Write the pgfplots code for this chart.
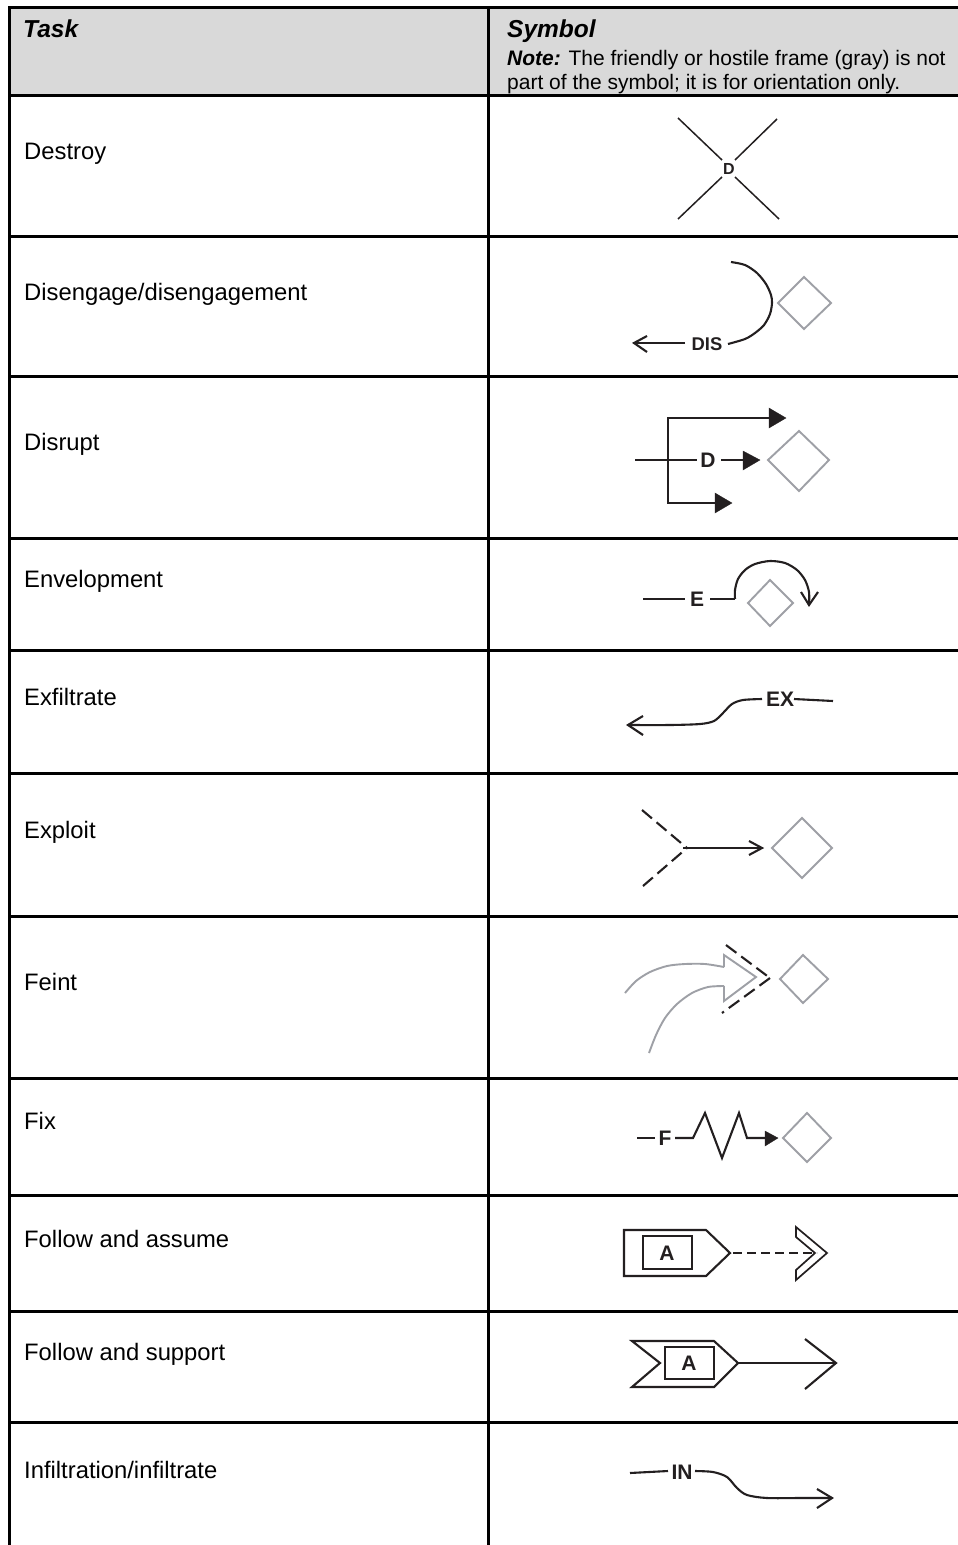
\documentclass[border=0pt]{standalone}
\usepackage{pgfplots}
\pgfplotsset{compat=1.18}
\usepackage{fontspec}
\setmainfont{Liberation Sans}
\definecolor{frame}{RGB}{158,160,166}
\definecolor{ink}{RGB}{35,31,32}
\definecolor{head}{RGB}{217,217,217}
\tikzset{
 rule/.style={black,line width=3pt},
 sym/.style={ink,line width=2.1pt,line join=miter},
 dia/.style={frame,line width=1.9pt,line join=miter},
 tri/.style={ink,fill=ink,line width=0.3pt},
 dsh/.style={ink,line width=2.1pt,dash pattern=on 13pt off 6pt},
 row/.style={anchor=base west,inner sep=0pt,font=\fontsize{23.8}{26}\selectfont},
 hd/.style={anchor=base west,inner sep=0pt,font=\fontsize{24.5}{26}\selectfont\bfseries\itshape},
 nt/.style={anchor=base west,inner sep=0pt,font=\fontsize{21}{24}\selectfont},
 lab/.style={anchor=center,inner sep=0pt,ink,font=\fontsize{#1}{#1}\selectfont\bfseries},
}
\begin{document}
\begin{tikzpicture}
\begin{axis}[
 scale only axis,width=958pt,height=1545pt,
 xmin=0,xmax=958,ymin=0,ymax=1545,y dir=reverse,
 hide axis,clip=true]
% page and header
\addplot[white,fill=white,line width=0pt] coordinates {(0,0)(958,0)(958,1545)(0,1545)} -- cycle;
\addplot[head,fill=head,line width=0pt] coordinates {(10,7)(958,7)(958,95)(10,95)} -- cycle;
% table rules
\addplot[rule] coordinates {(9,7)(958,7)};
\addplot[rule] coordinates {(9,95)(958,95)};
\addplot[rule] coordinates {(9,236)(958,236)};
\addplot[rule] coordinates {(9,376)(958,376)};
\addplot[rule] coordinates {(9,538)(958,538)};
\addplot[rule] coordinates {(9,650)(958,650)};
\addplot[rule] coordinates {(9,773)(958,773)};
\addplot[rule] coordinates {(9,916)(958,916)};
\addplot[rule] coordinates {(9,1078)(958,1078)};
\addplot[rule] coordinates {(9,1195)(958,1195)};
\addplot[rule] coordinates {(9,1311)(958,1311)};
\addplot[rule] coordinates {(9,1422)(958,1422)};
\addplot[rule] coordinates {(9,6)(9,1545)};
\addplot[rule] coordinates {(488.5,6)(488.5,1545)};
% Destroy
\addplot[sym,line width=1.5pt] coordinates {(678,118)(722,160)};
\addplot[sym,line width=1.5pt] coordinates {(735,177)(779,219)};
\addplot[sym,line width=1.5pt] coordinates {(777,119)(735,160)};
\addplot[sym,line width=1.5pt] coordinates {(722,177)(678,219)};
% Disengage
\addplot[sym,smooth] coordinates {(731,262)(745,265)(757,273)(766,284)(771,295)(772,303)(770,314)(764,325)(755,333)(745,339)(728,344)};
\addplot[sym] coordinates {(685,343)(634,343)};
\addplot[sym] coordinates {(647,336)(634,343)(647,352)};
\addplot[dia] coordinates {(778,303)(804,277)(831,303)(804,329)} -- cycle;
% Disrupt
\addplot[sym] coordinates {(769,418)(668,418)(668,503)(715,503)};
\addplot[tri] coordinates {(769,408)(786,418)(769,428)} -- cycle;
\addplot[sym] coordinates {(635,460)(697,460)};
\addplot[sym] coordinates {(721,460)(743,460)};
\addplot[tri] coordinates {(743,451)(760,460)(743,470)} -- cycle;
\addplot[tri] coordinates {(715,493)(732,503)(715,513)} -- cycle;
\addplot[dia] coordinates {(768,460)(799,431)(829,460)(799,491)} -- cycle;
% Envelopment
\addplot[sym] coordinates {(643,599)(685,599)};
\addplot[sym] coordinates {(710,599)(735,599)};
\addplot[sym,smooth] coordinates {(735,599)(735,590)(738,579)(745,570)(755,564)(770,561)(785,563)(797,570)(805,580)(809,592)(809,605)};
\addplot[sym] coordinates {(801,592)(809,605)(818,592)};
\addplot[dia] coordinates {(748,603)(770,580)(793,603)(770,626)} -- cycle;
% Exfiltrate
\addplot[sym] coordinates {(833,701)(794,699)};
\addplot[sym,smooth] coordinates {(762,699)(743,700)(732,704)(723,713)(714,721)(700,724)(670,725)(628,725)};
\addplot[sym] coordinates {(643,716)(628,725)(643,735)};
% Exploit
\addplot[dsh] coordinates {(642,810)(687,848)};
\addplot[dsh] coordinates {(643,886)(687,848)};
\addplot[sym] coordinates {(683,848)(762,848)};
\addplot[sym] coordinates {(749,841)(762,848)(749,855)};
\addplot[dia] coordinates {(772,848)(802,818)(832,848)(802,878)} -- cycle;
% Feint
\addplot[dia,smooth] coordinates {(625,993)(636,981)(650,972)(667,966)(685,964)(705,964)(724,967)};
\addplot[dia] coordinates {(724,967)(724,955)(756,977)(724,1001)(724,986)};
\addplot[dia,smooth] coordinates {(724,986)(708,987)(692,993)(677,1004)(665,1018)(656,1035)(649,1053)};
\addplot[dsh] coordinates {(726,945)(770,978)};
\addplot[dsh] coordinates {(770,978)(722,1013)};
\addplot[dia] coordinates {(780,979)(803,955)(828,979)(803,1003)} -- cycle;
% Fix
\addplot[sym] coordinates {(637,1138)(655,1138)};
\addplot[sym] coordinates {(675,1138)(693,1138)(705,1113)(722,1158)(739,1113)(747,1138)(765,1138)};
\addplot[tri] coordinates {(765,1131)(778,1138)(765,1146)} -- cycle;
\addplot[dia] coordinates {(783,1138)(807,1113)(831,1138)(807,1162)} -- cycle;
% Follow and assume
\addplot[sym] coordinates {(624,1230)(706,1230)(730,1253)(706,1276)(624,1276)} -- cycle;
\addplot[sym] coordinates {(643,1236)(692,1236)(692,1269)(643,1269)} -- cycle;
\addplot[dsh,dash pattern=on 9pt off 5pt] coordinates {(733,1253)(817,1253)};
\addplot[sym,line width=1.7pt] coordinates {(796,1227)(827,1253)(796,1280)(796,1270)(815,1253)(796,1237)} -- cycle;
% Follow and support
\addplot[sym] coordinates {(632,1341)(714,1341)(738,1363)(714,1387)(632,1387)(660,1363)} -- cycle;
\addplot[sym] coordinates {(665,1347)(714,1347)(714,1379)(665,1379)} -- cycle;
\addplot[sym] coordinates {(738,1363)(836,1363)};
\addplot[sym] coordinates {(805,1339)(836,1363)(805,1389)};
% Infiltration
\addplot[sym] coordinates {(630,1473)(668,1471)};
\addplot[sym,smooth] coordinates {(695,1471)(713,1472)(727,1477)(737,1488)(747,1495)(767,1498)(800,1498)(832,1498)};
\addplot[sym] coordinates {(817,1489)(832,1498)(817,1508)};
% text
\node[hd] at (axis cs:23,37) {Task};
\node[hd] at (axis cs:507,37) {Symbol};
\node[nt] at (axis cs:507,65) {\textbf{\textit{Note:}} The friendly or hostile frame (gray) is not};
\node[nt] at (axis cs:507,89) {part of the symbol; it is for orientation only.};
\node[row] at (axis cs:24,159) {Destroy};
\node[row] at (axis cs:24,300) {Disengage/disengagement};
\node[row] at (axis cs:24,450) {Disrupt};
\node[row] at (axis cs:24,587) {Envelopment};
\node[row] at (axis cs:24,705) {Exfiltrate};
\node[row] at (axis cs:24,838) {Exploit};
\node[row] at (axis cs:24,990) {Feint};
\node[row] at (axis cs:24,1129) {Fix};
\node[row] at (axis cs:24,1247) {Follow and assume};
\node[row] at (axis cs:24,1360) {Follow and support};
\node[row] at (axis cs:24,1478) {Infiltration/infiltrate};
\node[lab=16] at (axis cs:729,169) {D};
\node[lab=18.4] at (axis cs:707,344) {DIS};
\node[lab=21] at (axis cs:708,460) {D};
\node[lab=21] at (axis cs:697,599) {E};
\node[lab=21] at (axis cs:780,699) {EX};
\node[lab=21] at (axis cs:665,1138) {F};
\node[lab=21] at (axis cs:667,1253) {A};
\node[lab=21] at (axis cs:689,1363) {A};
\node[lab=21] at (axis cs:682,1472) {IN};
\end{axis}
\end{tikzpicture}
\end{document}
